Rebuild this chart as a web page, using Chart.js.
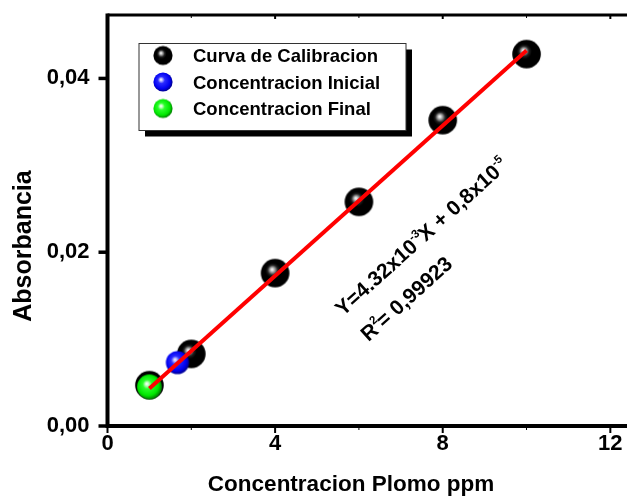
<!DOCTYPE html>
<html>
<head>
<meta charset="utf-8">
<script src="https://cdn.jsdelivr.net/npm/chart.js@4/dist/chart.umd.min.js"></script>
<style>
  html, body { margin: 0; padding: 0; background: #fff; overflow: hidden; }
  #wrap { position: relative; width: 640px; height: 497px; }
</style>
</head>
<body>
<div id="wrap"><canvas id="c" width="640" height="497"></canvas></div>
<script>
// Calibration standards (lead concentration in ppm vs absorbance)
const calibX = [1, 2, 4, 6, 8, 10];
const calibY = [0.0047, 0.0083, 0.0176, 0.0258, 0.0352, 0.0428];
// Sample measured before treatment
const inicialX = [1.67];
const inicialY = [0.0073];
// Sample measured after treatment
const finalX = [1.0];
const finalY = [0.0045];

// Least-squares fit, as printed on the chart
const fitSlope = 4.32e-3;
const fitIntercept = 0.8e-5;
const fitFrom = 1;
const fitTo = 10;
const fitR2 = '0,99923';

// Axis ticks
const xMajorTicks = [0, 4, 8, 12];
const xMinorTicks = [2, 6, 10];
const yTicks = [0, 0.02, 0.04];

const seriesNames = ['Curva de Calibracion', 'Concentracion Inicial', 'Concentracion Final'];
const xTitle = 'Concentracion Plomo ppm';
const yTitle = 'Absorbancia';

const FONT = '"Liberation Sans", Arial, Helvetica, sans-serif';

// Shaded sphere used as point marker
function sphere(r, stops) {
  const s = Math.ceil(2 * r) + 2;
  const c = document.createElement('canvas');
  c.width = c.height = s;
  const g = c.getContext('2d');
  const cx = s / 2, cy = s / 2;
  const grad = g.createRadialGradient(cx - 0.22 * r, cy - 0.26 * r, 0, cx - 0.08 * r, cy - 0.1 * r, r * 1.05);
  stops.forEach(([o, col]) => grad.addColorStop(o, col));
  g.beginPath();
  g.arc(cx, cy, r, 0, Math.PI * 2);
  g.fillStyle = grad;
  g.fill();
  return c;
}
const blackStops = [[0, '#ffffff'], [0.08, '#dcdcdc'], [0.2, '#8a8a8a'], [0.34, '#202020'], [0.5, '#000'], [1, '#000']];
const blueStops  = [[0, '#ffffff'], [0.12, '#c4c4ff'], [0.35, '#2a2aff'], [0.8, '#0000f0'], [1, '#00009a']];
const greenStops = [[0, '#ffffff'], [0.12, '#ccffcc'], [0.35, '#2aff2a'], [0.8, '#00e600'], [1, '#008a00']];

const markers = {
  black: sphere(14.3, blackStops),
  blue: sphere(11.6, blueStops),
  green: sphere(12.4, greenStops)
};
const legendMarkers = [sphere(9.6, blackStops), sphere(9.6, blueStops), sphere(9.6, greenStops)];

const toPts = (xs, ys) => xs.map((x, i) => ({ x: x, y: ys[i] }));
const fitLine = [fitFrom, fitTo].map(x => ({ x: x, y: fitSlope * x + fitIntercept }));

// Frame, tick marks, titles, legend and fit equation
const decorations = {
  id: 'decorations',
  beforeDatasetsDraw(chart) {
    const { ctx, chartArea: a, scales: { x, y } } = chart;
    ctx.save();
    ctx.strokeStyle = '#000';
    // top frame, running out to the page edge
    ctx.lineWidth = 3;
    ctx.beginPath();
    ctx.moveTo(a.left, a.top); ctx.lineTo(chart.width, a.top);
    ctx.stroke();
    // left and bottom axes
    ctx.lineWidth = 4;
    ctx.beginPath();
    ctx.moveTo(a.left, a.top - 1.5); ctx.lineTo(a.left, a.bottom); ctx.lineTo(chart.width, a.bottom);
    ctx.stroke();
    // x ticks
    ctx.lineWidth = 2;
    xMajorTicks.forEach(v => {
      const px = x.getPixelForValue(v);
      ctx.beginPath(); ctx.moveTo(px, a.bottom); ctx.lineTo(px, a.bottom + 7); ctx.stroke();
      ctx.beginPath(); ctx.moveTo(px, a.top); ctx.lineTo(px, a.top + 4); ctx.stroke();
    });
    ctx.lineWidth = 1;
    xMinorTicks.forEach(v => {
      const px = x.getPixelForValue(v);
      ctx.beginPath(); ctx.moveTo(px, a.bottom); ctx.lineTo(px, a.bottom + 4); ctx.stroke();
      ctx.beginPath(); ctx.moveTo(px, a.top); ctx.lineTo(px, a.top + 3); ctx.stroke();
    });
    // y ticks
    ctx.lineWidth = 3.5;
    yTicks.forEach(v => {
      const py = y.getPixelForValue(v);
      ctx.beginPath(); ctx.moveTo(a.left - 9, py); ctx.lineTo(a.left, py); ctx.stroke();
    });
    ctx.restore();
  },
  afterDraw(chart) {
    const { ctx, chartArea: a, scales: { x, y } } = chart;
    ctx.save();
    ctx.fillStyle = '#000';

    // axis titles
    ctx.font = 'bold 22.5px ' + FONT;
    ctx.textAlign = 'center';
    ctx.textBaseline = 'alphabetic';
    ctx.fillText(xTitle, 351, 491);
    ctx.save();
    ctx.translate(31, 246);
    ctx.rotate(-Math.PI / 2);
    ctx.font = 'bold 25px ' + FONT;
    ctx.fillText(yTitle, 0, 0);
    ctx.restore();

    // legend box with drop shadow
    const lx = a.left + 31.5, ly = a.top + 28.5, lw = 267, lh = 87;
    ctx.fillStyle = '#000';
    ctx.fillRect(lx + 6, ly + 6, lw, lh);
    ctx.fillStyle = '#fff';
    ctx.fillRect(lx, ly, lw, lh);
    ctx.strokeStyle = '#333';
    ctx.lineWidth = 1;
    ctx.strokeRect(lx, ly, lw, lh);
    ctx.fillStyle = '#000';
    ctx.font = 'bold 18.5px ' + FONT;
    ctx.textAlign = 'left';
    seriesNames.forEach((name, i) => {
      const cy = ly + 12 + i * 26.5;
      const m = legendMarkers[i];
      ctx.drawImage(m, lx + 24 - m.width / 2, cy - m.height / 2);
      ctx.fillText(name, lx + 54, cy + 6.5);
    });

    // fit equation, written along the line
    const ox = x.getPixelForValue(5.62), oy = y.getPixelForValue(0.01256);
    ctx.translate(ox, oy);
    ctx.rotate(-42 * Math.PI / 180);
    const main = 'bold 21px ' + FONT, sup = 'bold 11.5px ' + FONT;
    function rich(segs, px, py) {
      segs.forEach(s => {
        ctx.font = s.sup ? sup : main;
        ctx.fillText(s.t, px, py - (s.sup ? 9.5 : 0));
        px += ctx.measureText(s.t).width + (s.sup ? -1 : 0);
      });
    }
    const slopeTxt = (fitSlope * 1e3).toFixed(2);
    const interTxt = (fitIntercept * 1e5).toFixed(1).replace('.', ',');
    rich([{ t: 'Y=' + slopeTxt + 'x10' }, { t: '-3', sup: true }, { t: 'X + ' + interTxt + 'x10' }, { t: '-5', sup: true }], 0, 0);
    rich([{ t: 'R' }, { t: '2', sup: true }, { t: '= ' + fitR2 }], 2, 36);
    ctx.restore();
  }
};

new Chart(document.getElementById('c'), {
  type: 'scatter',
  data: {
    datasets: [
      {
        label: 'Ajuste lineal',
        data: fitLine,
        showLine: true,
        borderColor: '#ff0000',
        borderWidth: 4,
        pointRadius: 0,
        order: 0
      },
      {
        label: seriesNames[2],
        data: toPts(finalX, finalY),
        pointStyle: markers.green,
        pointRadius: 12,
        order: 1
      },
      {
        label: seriesNames[1],
        data: toPts(inicialX, inicialY),
        pointStyle: markers.blue,
        pointRadius: 11,
        order: 2
      },
      {
        label: seriesNames[0],
        data: toPts(calibX, calibY),
        pointStyle: markers.black,
        pointRadius: 14,
        order: 3
      }
    ]
  },
  options: {
    responsive: false,
    animation: false,
    devicePixelRatio: 1,
    layout: { padding: { top: 12.7, right: 1.6, left: 0, bottom: 0 } },
    plugins: { legend: { display: false }, tooltip: { enabled: false } },
    scales: {
      x: {
        type: 'linear',
        min: 0,
        max: 12.35,
        afterFit(s) { s.height = 71; s.paddingLeft = 0; s.paddingRight = 0; },
        grid: { display: false },
        border: { display: false },
        ticks: {
          stepSize: 2,
          includeBounds: false,
          autoSkip: false,
          maxRotation: 0,
          padding: -3,
          color: '#000',
          font: { family: FONT, size: 22, weight: 'bold' },
          callback: v => (xMajorTicks.includes(v) ? String(v) : '')
        }
      },
      y: {
        type: 'linear',
        min: 0,
        max: 0.0473,
        afterFit(s) { s.width = 107.5; s.paddingTop = 0; s.paddingBottom = 0; },
        grid: { display: false },
        border: { display: false },
        ticks: {
          stepSize: 0.02,
          includeBounds: false,
          padding: 10,
          color: '#000',
          font: { family: FONT, size: 22, weight: 'bold' },
          callback: v => v.toFixed(2).replace('.', ',')
        }
      }
    }
  },
  plugins: [decorations]
});
</script>
</body>
</html>
